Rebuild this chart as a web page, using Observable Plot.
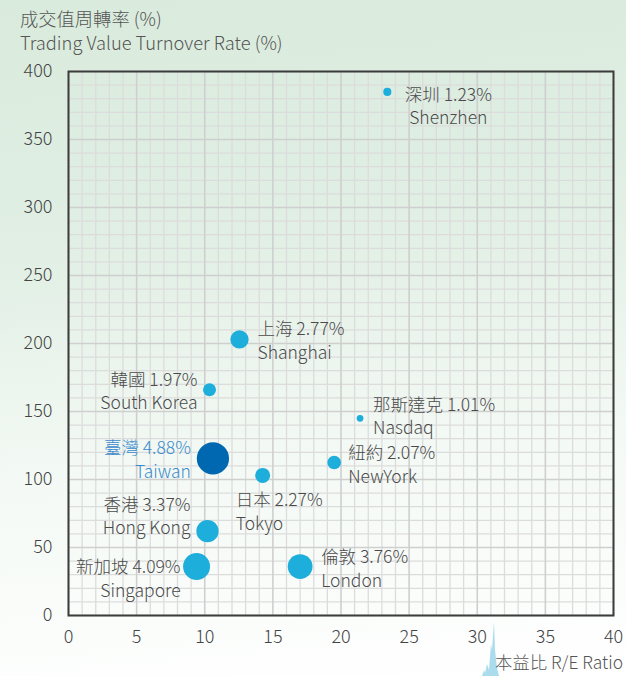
<!DOCTYPE html>
<html>
<head>
<meta charset="utf-8">
<script src="https://cdn.jsdelivr.net/npm/d3@7"></script>
<script src="https://cdn.jsdelivr.net/npm/@observablehq/plot@0.6"></script>
<style>
  html, body { margin: 0; padding: 0; }
  body { width: 626px; height: 676px; overflow: hidden; font-family: "Noto Sans CJK TC", "Noto Sans", sans-serif; }
  #wrap { position: relative; width: 626px; height: 676px;
    background: linear-gradient(175deg, #d9ebdd 0%, #e1efe4 35%, #f3f9f4 65%, #ffffff 100%); }
  #title { position: absolute; left: 20px; top: 6px; color: #555; font-size: 18.3px; line-height: 24px; font-weight: 300; }
  #xlabel { position: absolute; right: 3px; top: 652px; height: 20px; color: #555; font-size: 17.4px; line-height: 20px; font-weight: 300; white-space: nowrap; }
  #chart { position: absolute; left: 0; top: 0; }
  #deco { position: absolute; left: 480px; top: 620px; }
</style>
</head>
<body>
<div id="wrap">
  <svg id="deco" width="20" height="56" viewBox="0 0 20 56">
    <path d="M2 56 L4 50 L5 53 L7 44 L9 50 L11 24 L12 30 L14 2 L15 30 L17 48 L19 56 Z" fill="#aadcee"/>
  </svg>
  <div id="chart"></div>
  <div id="title">成交值周轉率 (%)<br>Trading Value Turnover Rate (%)</div>
  <div id="xlabel">本益比 R/E Ratio</div>
</div>
<script>
// ---- data ----
const names    = ["深圳", "上海", "韓國", "臺灣", "日本", "香港", "新加坡", "倫敦", "紐約", "那斯達克"];
const namesEn  = ["Shenzhen", "Shanghai", "South Korea", "Taiwan", "Tokyo", "Hong Kong", "Singapore", "London", "NewYork", "Nasdaq"];
const peRatio  = [23.4, 12.55, 10.35, 10.6, 14.25, 10.2, 9.4, 17.0, 19.5, 21.4];
const turnover = [385, 203, 166, 115.5, 103, 62, 36, 36, 112.5, 145];
const share    = [1.23, 2.77, 1.97, 4.88, 2.27, 3.37, 4.09, 3.76, 2.07, 1.01];
const xTicks = [0, 5, 10, 15, 20, 25, 30, 35, 40];
const yTicks = [0, 50, 100, 150, 200, 250, 300, 350, 400];

// ---- label layout (pixel offsets from each bubble) ----
const labelLayout = [
  {anchor: "middle", dx: 61,  dy: 13},
  {anchor: "start",  dx: 18,  dy: 0},
  {anchor: "end",    dx: -12, dy: 0},
  {anchor: "end",    dx: -22, dy: 0},
  {anchor: "start",  dx: -27, dy: 35},
  {anchor: "end",    dx: -17, dy: -16},
  {anchor: "end",    dx: -16, dy: 11},
  {anchor: "start",  dx: 21,  dy: 1},
  {anchor: "start",  dx: 14,  dy: 1},
  {anchor: "start",  dx: 13,  dy: -3}
];

const rows = names.map((n, i) => ({
  name: n, en: namesEn[i], x: peRatio[i], y: turnover[i], p: share[i],
  label: `${n} ${share[i].toFixed(2)}%\n${namesEn[i]}`,
  highlight: n === "臺灣"
}));

const minorX = d3.range(0, 41, 1).filter(v => v % 5 !== 0);
const minorY = d3.range(0, 401, 10).filter(v => v % 50 !== 0);

const textMarks = rows.map((r, i) => Plot.text([r], {
  x: "x", y: "y", text: "label",
  textAnchor: labelLayout[i].anchor,
  dx: labelLayout[i].dx, dy: labelLayout[i].dy,
  lineAnchor: "middle", lineHeight: 1.33,
  fill: r.highlight ? "#3a8ccd" : "#4a4a4a",
  fontSize: 17.5, fontWeight: 300
}));

const chart = Plot.plot({
  width: 626, height: 676,
  marginTop: 71, marginBottom: 61, marginLeft: 68, marginRight: 13,
  style: {background: "transparent", fontFamily: "'Noto Sans CJK TC', 'Noto Sans', sans-serif"},
  x: {domain: [0, 40], ticks: xTicks},
  y: {domain: [0, 400], ticks: yTicks},
  r: {type: "linear", domain: [0, 5], range: [0, 16.5]},
  marks: [
    Plot.ruleX(minorX, {stroke: "#dcdcdc", strokeWidth: 1.3}),
    Plot.ruleY(minorY, {stroke: "#dcdcdc", strokeWidth: 1.3}),
    Plot.ruleX(xTicks, {stroke: "#cfcfcf", strokeWidth: 1.6}),
    Plot.ruleY(yTicks, {stroke: "#cfcfcf", strokeWidth: 1.6}),
    Plot.frame({stroke: "#3c3c3c", strokeWidth: 2}),
    Plot.axisX({ticks: xTicks, tickSize: 0, tickPadding: 15, fontSize: 18, fontWeight: 300, color: "#444", label: null}),
    Plot.axisY({ticks: yTicks, tickSize: 0, tickPadding: 16, fontSize: 18, fontWeight: 300, color: "#444", label: null}),
    Plot.dot(rows, {x: "x", y: "y", r: "p", fill: d => d.highlight ? "#0068b0" : "#1eaedb", stroke: "none"}),
    ...textMarks
  ]
});
document.getElementById("chart").appendChild(chart);
</script>
</body>
</html>
